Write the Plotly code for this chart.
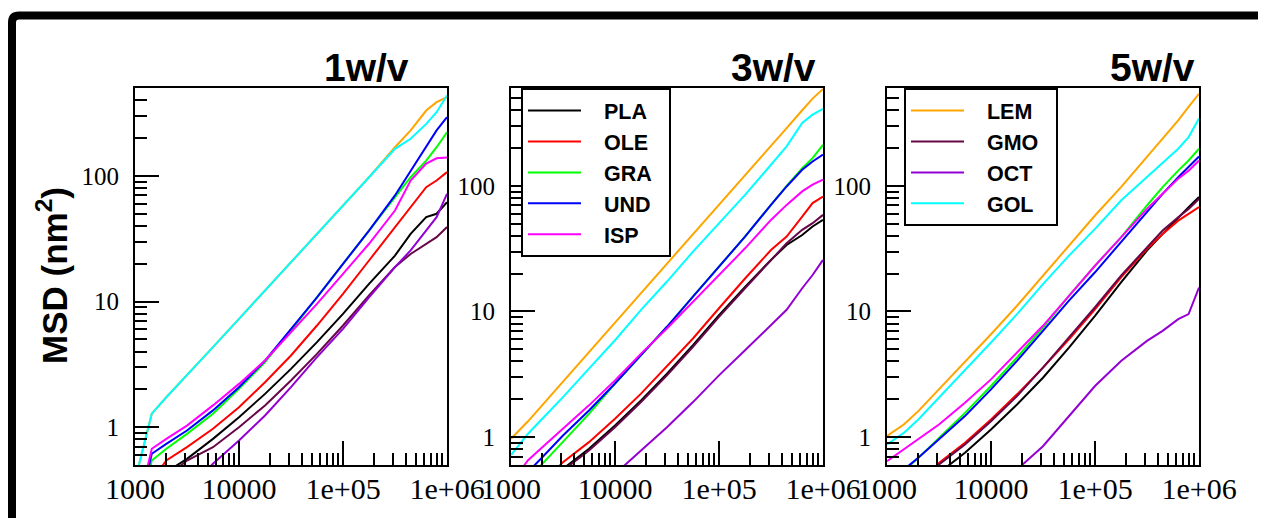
import math
import plotly.graph_objects as go

W, H = 1266, 518
OFF = 8  # page body margin: screen pixel = figure pixel + OFF

# ---- data (time axis shared by all series) ----
TIME = [1000, 1450, 2000, 3160, 5620, 10000, 17800, 31600, 56200, 100000,
        178000, 316000, 447000, 631000, 794000, 1000000]

NAMES = ["PLA", "OLE", "GRA", "UND", "ISP", "LEM", "GMO", "OCT", "GOL"]
COLORS = ["#000000", "#ff0000", "#00ff00", "#0000ff", "#ff00ff",
          "#ffa500", "#670748", "#9400d3", "#00ffff"]

# 1w/v
PLA_1 = [0.0444, 0.313, 0.439, 0.560, 0.807, 1.20, 1.84, 2.91, 4.75, 7.98, 13.8, 23.2, 34.5, 46.9, 49.9, 61.7]
OLE_1 = [0.060, 0.377, 0.543, 0.693, 0.970, 1.44, 2.28, 3.72, 6.44, 11.5, 21.2, 39.0, 56.3, 81.2, 91.8, 107]
GRA_1 = [0.142, 0.543, 0.673, 0.885, 1.28, 2.02, 3.29, 5.88, 10.8, 19.9, 36.7, 67.6, 97.5, 132, 169, 222]
UND_1 = [0.165, 0.614, 0.736, 0.940, 1.36, 2.08, 3.39, 6.06, 10.8, 19.9, 36.7, 69.8, 110, 174, 230, 293]
ISP_1 = [0.181, 0.673, 0.807, 1.03, 1.49, 2.21, 3.39, 5.70, 9.58, 16.6, 28.8, 53.0, 91.8, 125, 138, 140]
LEM_1 = [0.377, 1.28, 1.73, 2.58, 4.33, 7.28, 12.2, 20.6, 34.5, 58.1, 97.5, 169, 230, 331, 386, 423]
GMO_1 = [0.060, 0.261, 0.400, 0.543, 0.693, 1.0, 1.49, 2.35, 3.83, 6.44, 11.2, 18.8, 23.9, 28.8, 32.5, 39.1]
OCT_1 = [0.0177, 0.111, 0.181, 0.313, 0.511, 0.783, 1.24, 2.08, 3.61, 6.06, 10.8, 18.8, 25.5, 36.7, 46.9, 71.9]
GOL_1 = [0.377, 1.28, 1.73, 2.58, 4.33, 7.28, 12.2, 20.6, 34.5, 58.1, 97.5, 164, 197, 259, 321, 436]

# 3w/v
PLA_3 = [0.0813, 0.204, 0.353, 0.559, 0.807, 1.24, 1.96, 3.20, 5.39, 9.35, 15.7, 25.7, 33.8, 40.6, 47.4, 53.5]
OLE_3 = [0.0975, 0.244, 0.425, 0.632, 0.912, 1.40, 2.22, 3.66, 6.09, 10.6, 18.3, 30.8, 39.4, 56.9, 72.8, 82.2]
GRA_3 = [0.276, 0.451, 0.613, 0.912, 1.53, 2.67, 4.49, 7.55, 13.1, 22.7, 39.4, 70.5, 100, 138, 166, 212]
UND_3 = [0.313, 0.526, 0.692, 1.03, 1.63, 2.67, 4.49, 7.55, 13.1, 22.7, 39.4, 70.5, 98.8, 134, 156, 177]
ISP_3 = [0.425, 0.652, 0.832, 1.16, 1.79, 2.83, 4.62, 7.31, 11.9, 19.5, 31.8, 53.5, 70.5, 90.2, 102, 112]
LEM_3 = [0.970, 1.33, 1.80, 2.76, 4.74, 8.17, 14.0, 24.0, 41.1, 70.5, 121, 207, 288, 399, 494, 590]
GMO_3 = [0.0764, 0.191, 0.332, 0.542, 0.783, 1.20, 1.90, 3.10, 5.22, 9.06, 15.3, 25.7, 34.9, 44.6, 50.4, 58.7]
OCT_3 = [0.0062, 0.0211, 0.0441, 0.0975, 0.230, 0.509, 0.783, 1.20, 1.90, 3.10, 4.91, 7.78, 10.3, 15.3, 19.5, 25.7]
GOL_3 = [0.72, 1.06, 1.40, 2.08, 3.51, 5.90, 10.3, 17.3, 29.9, 50.4, 84.7, 147, 206, 316, 368, 409]

# 5w/v
PLA_5 = [0.0710, 0.157, 0.273, 0.519, 0.750, 1.15, 1.82, 2.97, 5.16, 9.23, 17.0, 30.5, 41.4, 56.2, 67.6, 81.3]
OLE_5 = [0.0964, 0.214, 0.371, 0.624, 0.902, 1.38, 2.19, 3.57, 6.01, 10.4, 18.7, 31.4, 41.4, 52.8, 59.8, 67.6]
GRA_5 = [0.349, 0.536, 0.684, 0.988, 1.56, 2.55, 4.30, 7.45, 13.3, 23.1, 38.9, 69.7, 97.5, 132, 159, 197]
UND_5 = [0.371, 0.552, 0.684, 0.957, 1.47, 2.40, 4.04, 7.01, 12.2, 20.5, 35.5, 61.7, 86.3, 117, 141, 171]
ISP_5 = [0.644, 0.798, 0.957, 1.26, 1.88, 2.88, 4.71, 7.69, 13.3, 23.1, 38.9, 65.5, 86.3, 114, 132, 159]
LEM_5 = [1.02, 1.26, 1.61, 2.40, 3.92, 6.59, 11.1, 19.3, 33.4, 58.0, 97.5, 169, 237, 332, 425, 540]
GMO_5 = [0.0906, 0.201, 0.349, 0.605, 0.873, 1.34, 2.12, 3.57, 6.21, 10.8, 19.3, 32.4, 44.1, 56.2, 65.5, 78.8]
OCT_5 = [0.0045, 0.0113, 0.0208, 0.0491, 0.131, 0.328, 0.552, 0.847, 1.47, 2.55, 4.04, 5.83, 7.01, 8.69, 9.52, 15.5]
GOL_5 = [0.873, 1.08, 1.38, 2.06, 3.36, 5.66, 9.52, 16.5, 27.8, 45.4, 76.4, 117, 150, 197, 244, 343]

PANEL_TITLES = ["1w/v", "3w/v", "5w/v"]
PANEL_DATA = [
    [PLA_1, OLE_1, GRA_1, UND_1, ISP_1, LEM_1, GMO_1, OCT_1, GOL_1],
    [PLA_3, OLE_3, GRA_3, UND_3, ISP_3, LEM_3, GMO_3, OCT_3, GOL_3],
    [PLA_5, OLE_5, GRA_5, UND_5, ISP_5, LEM_5, GMO_5, OCT_5, GOL_5],
]
Y_RANGES = [(0.5, 500), (0.6, 600), (0.6, 600)]

X_TICKVALS = [1000, 10000, 100000, 1000000]
X_TICKTEXT = ["1000", "10000", "1e+05", "1e+06"]
Y_TICKVALS = [1, 10, 100]
Y_TICKTEXT = ["1", "10", "100"]

# ---- layout geometry (screen pixels) ----
X_DOMAINS_PX = [(135, 447), (511, 823), (887, 1199)]
Y_TOP_PX, Y_BOT_PX = 88, 465
TITLE_RIGHT_PX = [411, 818, 1197]


def fx(px):
    return (px - OFF) / W


def fy(py):
    return 1 - (py - OFF) / H


fig = go.Figure()

for p in range(3):
    ax = "" if p == 0 else str(p + 1)
    for k, name in enumerate(NAMES):
        if p == 1 and k < 5:
            show, leg = True, "legend"
        elif p == 2 and k >= 5:
            show, leg = True, "legend2"
        else:
            show, leg = False, "legend"
        fig.add_trace(go.Scatter(
            x=TIME, y=PANEL_DATA[p][k], mode="lines",
            name="\u00a0\u00a0\u00a0" + name + "\u00a0\u00a0",
            line=dict(color=COLORS[k], width=2),
            xaxis="x" + ax, yaxis="y" + ax,
            showlegend=show, legend=leg,
        ))

minor_x = [m * 10 ** d for d in range(3, 6) for m in range(2, 10)]
minor_y = [m * 10 ** d for d in range(-1, 3) for m in range(2, 10)]

axis_common = dict(
    type="log", showline=True, linecolor="black", linewidth=2, mirror=True,
    ticks="inside", ticklen=24, tickwidth=2, tickcolor="black",
    showgrid=False, zeroline=False, tickmode="array", automargin=False,
)

yd = [fy(Y_BOT_PX), fy(Y_TOP_PX)]
layout = {}
for p in range(3):
    ax = "" if p == 0 else str(p + 1)
    x0, x1 = X_DOMAINS_PX[p]
    layout["xaxis" + ax] = dict(
        axis_common, domain=[fx(x0), fx(x1)], range=[3, 6], anchor="y" + ax,
        tickvals=X_TICKVALS, ticktext=X_TICKTEXT,
        tickfont=dict(family="Liberation Serif", size=30, color="black"),
        ticklabelstandoff=-4,
        minor=dict(ticks="inside", ticklen=12, tickwidth=2, tickcolor="black",
                   tickmode="array", tickvals=minor_x, showgrid=False),
    )
    lo, hi = Y_RANGES[p]
    layout["yaxis" + ax] = dict(
        axis_common, domain=yd, range=[math.log10(lo), math.log10(hi)],
        anchor="x" + ax,
        tickvals=Y_TICKVALS, ticktext=Y_TICKTEXT,
        tickfont=dict(family="Liberation Serif", size=25, color="black"),
        ticklabelstandoff=9,
        minor=dict(ticks="inside", ticklen=12, tickwidth=2, tickcolor="black",
                   tickmode="array", tickvals=minor_y, showgrid=False),
    )

legend_common = dict(
    xanchor="left", yanchor="top", y=fy(Y_TOP_PX),
    bgcolor="white", bordercolor="black", borderwidth=2,
    font=dict(family="Liberation Sans", size=21.5, color="black", weight="bold"),
    itemwidth=53, tracegroupgap=0,
)

annotations = []
for p in range(3):
    annotations.append(dict(
        text=PANEL_TITLES[p], xref="paper", yref="paper",
        x=fx(TITLE_RIGHT_PX[p]), y=fy(68), xanchor="right", yanchor="middle",
        showarrow=False,
        font=dict(family="Liberation Sans", size=39, color="black", weight="bold"),
    ))
annotations.append(dict(
    text="MSD (nm<sup>2</sup>)", xref="paper", yref="paper",
    x=fx(52), y=fy(276), xanchor="center", yanchor="middle",
    textangle=-90, showarrow=False,
    font=dict(family="Liberation Sans", size=35, color="black", weight="bold"),
))

xl = fx(12)
yt = fy(15.5)
rx, ry = 7 / W, 7 / H
frame_path = (f"M {xl},-0.1 L {xl},{yt - ry} Q {xl},{yt} {xl + rx},{yt} "
              f"L 1.1,{yt}")

fig.update_layout(
    width=W, height=H, margin=dict(l=0, r=0, t=0, b=0, autoexpand=False),
    paper_bgcolor="white", plot_bgcolor="white",
    showlegend=True,
    legend=dict(legend_common, x=fx(521)),
    legend2=dict(legend_common, x=fx(904)),
    annotations=annotations,
    shapes=[dict(type="path", path=frame_path, xref="paper", yref="paper",
                 line=dict(color="black", width=8))],
    **layout,
)

fig.write_html("out.html")
